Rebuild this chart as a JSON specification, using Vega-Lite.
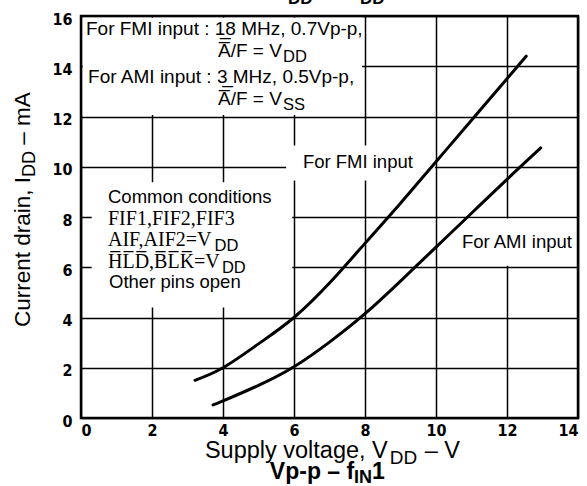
{
  "$schema": "https://vega.github.io/schema/vega-lite/v6.json",
  "width": 497,
  "height": 402,
  "autosize": {"type": "none"},
  "padding": {"left": 81, "top": 16, "right": 9, "bottom": 68},
  "background": "white",
  "config": {"view": {"stroke": "black", "strokeWidth": 2.5}},
  "datasets": {
    "boxes": [
      {"x": 0.05, "xe": 7.92, "y": 12.06, "ye": 15.93},
      {"x": 5.78, "xe": 9.97, "y": 9.45, "ye": 10.85},
      {"x": 0.3, "xe": 5.95, "y": 4.4, "ye": 9.38},
      {"x": 10.1, "xe": 13.94, "y": 6.06, "ye": 7.94}
    ],
    "curves": [
      {"series": "FMI", "x": 3.21, "y": 1.5},
      {"series": "FMI", "x": 4.0, "y": 2.0},
      {"series": "FMI", "x": 5.0, "y": 2.95},
      {"series": "FMI", "x": 6.0, "y": 4.0},
      {"series": "FMI", "x": 7.0, "y": 5.37},
      {"series": "FMI", "x": 8.0, "y": 6.95},
      {"series": "FMI", "x": 9.0, "y": 8.55},
      {"series": "FMI", "x": 10.0, "y": 10.2},
      {"series": "FMI", "x": 11.0, "y": 11.85},
      {"series": "FMI", "x": 12.0, "y": 13.5},
      {"series": "FMI", "x": 12.54, "y": 14.4},
      {"series": "AMI", "x": 3.72, "y": 0.52},
      {"series": "AMI", "x": 4.0, "y": 0.68},
      {"series": "AMI", "x": 5.0, "y": 1.3},
      {"series": "AMI", "x": 6.0, "y": 2.04},
      {"series": "AMI", "x": 7.0, "y": 3.02},
      {"series": "AMI", "x": 8.0, "y": 4.15},
      {"series": "AMI", "x": 9.0, "y": 5.45},
      {"series": "AMI", "x": 10.0, "y": 6.8},
      {"series": "AMI", "x": 11.0, "y": 8.15},
      {"series": "AMI", "x": 12.0, "y": 9.5},
      {"series": "AMI", "x": 12.95, "y": 10.75}
    ],
    "notes": [
      {"kind": "box", "x": 0.14, "y": 15.24, "t": "For FMI input : 1\u03328 MHz, 0.7Vp-p,"},
      {"kind": "box", "x": 3.86, "y": 14.37, "t": "A\u0305/F = V"},
      {"kind": "box", "x": 0.2, "y": 13.33, "t": "For AMI input : 3\u0332 MHz, 0.5Vp-p,"},
      {"kind": "box", "x": 3.86, "y": 12.46, "t": "A\u0305/F = V"},
      {"kind": "sub", "x": 5.69, "y": 14.37, "t": "DD"},
      {"kind": "sub", "x": 5.69, "y": 12.46, "t": "SS"},
      {"kind": "sub", "x": 3.76, "y": 6.85, "t": "DD"},
      {"kind": "sub", "x": 3.97, "y": 5.97, "t": "DD"},
      {"kind": "label", "x": 0.76, "y": 8.56, "t": "Common conditions"},
      {"kind": "label", "x": 0.79, "y": 5.17, "t": "Other pins open"},
      {"kind": "label", "x": 6.25, "y": 9.95, "t": "For FMI input"},
      {"kind": "label", "x": 10.73, "y": 6.77, "t": "For AMI input"},
      {"kind": "serif", "x": 0.76, "y": 7.68, "t": "FIF1,FIF2,FIF3"},
      {"kind": "serif", "x": 0.76, "y": 6.85, "t": "AIF,AIF2=V"},
      {"kind": "serif", "x": 0.76, "y": 5.97, "t": "H\u0305L\u0305D\u0305,B\u0305L\u0305K\u0305=V"},
      {"kind": "xtitle", "x": 3.49, "y": -1.58, "t": "Supply voltage, V"},
      {"kind": "xtitle", "x": 9.68, "y": -1.58, "t": "\u2013 V"},
      {"kind": "xsub", "x": 8.7, "y": -1.58, "t": "DD"},
      {"kind": "bold", "x": 5.32, "y": -2.42, "t": "Vp-p \u2013 f"},
      {"kind": "bold", "x": 8.2, "y": -2.42, "t": "1"},
      {"kind": "boldsub", "x": 7.69, "y": -2.42, "t": "IN"},
      {"kind": "ytitle", "x": -1.44, "y": 3.62, "t": "Current drain, I"},
      {"kind": "ytitle", "x": -1.44, "y": 10.88, "t": "\u2013 mA"},
      {"kind": "ysub", "x": -1.44, "y": 9.59, "t": "DD"},
      {"kind": "top", "x": 5.83, "y": 16.48, "t": "DD"},
      {"kind": "top", "x": 7.86, "y": 16.48, "t": "DD"}
    ]
  },
  "layer": [
    {
      "data": {"name": "boxes"},
      "mark": {"type": "rect", "color": "white"},
      "encoding": {
        "x": {"field": "x", "type": "quantitative", "scale": {"domain": [0, 14], "nice": false},
          "axis": {"values": [0, 2, 4, 6, 8, 10, 12, 14], "grid": true, "gridColor": "black", "gridWidth": 1.5, "gridOpacity": 1,
            "domain": false, "ticks": false, "labelFont": "Liberation Sans Narrow, DejaVu Sans Condensed, sans-serif",
            "labelFontSize": 16, "labelFontWeight": "bold", "labelColor": "black", "labelPadding": 4, "title": null}},
        "x2": {"field": "xe"},
        "y": {"field": "y", "type": "quantitative", "scale": {"domain": [0, 16], "nice": false},
          "axis": {"values": [0, 2, 4, 6, 8, 10, 12, 14, 16], "grid": true, "gridColor": "black", "gridWidth": 1.5, "gridOpacity": 1,
            "domain": false, "ticks": false, "labelFont": "Liberation Sans Narrow, DejaVu Sans Condensed, sans-serif",
            "labelFontSize": 16, "labelFontWeight": "bold", "labelColor": "black", "labelPadding": 9, "labelOffset": 3, "title": null}},
        "y2": {"field": "ye"}
      }
    },
    {
      "data": {"name": "curves"},
      "mark": {"type": "line", "color": "black", "strokeWidth": 3, "interpolate": "natural", "strokeCap": "round"},
      "encoding": {
        "x": {"field": "x", "type": "quantitative", "scale": {"domain": [0, 14], "nice": false}, "title": null},
        "y": {"field": "y", "type": "quantitative", "scale": {"domain": [0, 16], "nice": false}, "title": null},
        "detail": {"field": "series"}
      }
    },
    {
      "data": {"name": "notes"},
      "transform": [{"filter": "datum.kind === 'box'"}],
      "mark": {"type": "text", "font": "Liberation Sans", "fontSize": 19, "align": "left", "baseline": "alphabetic", "color": "black"},
      "encoding": {
        "x": {"field": "x", "type": "quantitative", "scale": {"domain": [0, 14], "nice": false}, "title": null},
        "y": {"field": "y", "type": "quantitative", "scale": {"domain": [0, 16], "nice": false}, "title": null},
        "text": {"field": "t"}
      }
    },
    {
      "data": {"name": "notes"},
      "transform": [{"filter": "datum.kind === 'sub'"}],
      "mark": {"type": "text", "font": "Liberation Sans", "fontSize": 16.5, "align": "left", "baseline": "alphabetic", "dy": 5, "color": "black"},
      "encoding": {
        "x": {"field": "x", "type": "quantitative", "scale": {"domain": [0, 14], "nice": false}, "title": null},
        "y": {"field": "y", "type": "quantitative", "scale": {"domain": [0, 16], "nice": false}, "title": null},
        "text": {"field": "t"}
      }
    },
    {
      "data": {"name": "notes"},
      "transform": [{"filter": "datum.kind === 'label'"}],
      "mark": {"type": "text", "font": "Liberation Sans", "fontSize": 18.5, "align": "left", "baseline": "alphabetic", "color": "black"},
      "encoding": {
        "x": {"field": "x", "type": "quantitative", "scale": {"domain": [0, 14], "nice": false}, "title": null},
        "y": {"field": "y", "type": "quantitative", "scale": {"domain": [0, 16], "nice": false}, "title": null},
        "text": {"field": "t"}
      }
    },
    {
      "data": {"name": "notes"},
      "transform": [{"filter": "datum.kind === 'serif'"}],
      "mark": {"type": "text", "font": "Liberation Serif", "fontSize": 20, "align": "left", "baseline": "alphabetic", "color": "black"},
      "encoding": {
        "x": {"field": "x", "type": "quantitative", "scale": {"domain": [0, 14], "nice": false}, "title": null},
        "y": {"field": "y", "type": "quantitative", "scale": {"domain": [0, 16], "nice": false}, "title": null},
        "text": {"field": "t"}
      }
    },
    {
      "data": {"name": "notes"},
      "transform": [{"filter": "datum.kind === 'xtitle'"}],
      "mark": {"type": "text", "font": "Liberation Sans", "fontSize": 23.5, "align": "left", "baseline": "alphabetic", "color": "black"},
      "encoding": {
        "x": {"field": "x", "type": "quantitative", "scale": {"domain": [0, 14], "nice": false}, "title": null},
        "y": {"field": "y", "type": "quantitative", "scale": {"domain": [0, 16], "nice": false}, "title": null},
        "text": {"field": "t"}
      }
    },
    {
      "data": {"name": "notes"},
      "transform": [{"filter": "datum.kind === 'xsub'"}],
      "mark": {"type": "text", "font": "Liberation Sans", "fontSize": 19, "align": "left", "baseline": "alphabetic", "dy": 6, "color": "black"},
      "encoding": {
        "x": {"field": "x", "type": "quantitative", "scale": {"domain": [0, 14], "nice": false}, "title": null},
        "y": {"field": "y", "type": "quantitative", "scale": {"domain": [0, 16], "nice": false}, "title": null},
        "text": {"field": "t"}
      }
    },
    {
      "data": {"name": "notes"},
      "transform": [{"filter": "datum.kind === 'bold'"}],
      "mark": {"type": "text", "font": "Liberation Sans", "fontSize": 23, "fontWeight": "bold", "align": "left", "baseline": "alphabetic", "color": "black"},
      "encoding": {
        "x": {"field": "x", "type": "quantitative", "scale": {"domain": [0, 14], "nice": false}, "title": null},
        "y": {"field": "y", "type": "quantitative", "scale": {"domain": [0, 16], "nice": false}, "title": null},
        "text": {"field": "t"}
      }
    },
    {
      "data": {"name": "notes"},
      "transform": [{"filter": "datum.kind === 'boldsub'"}],
      "mark": {"type": "text", "font": "Liberation Sans", "fontSize": 18, "fontWeight": "bold", "align": "left", "baseline": "alphabetic", "dy": 4, "color": "black"},
      "encoding": {
        "x": {"field": "x", "type": "quantitative", "scale": {"domain": [0, 14], "nice": false}, "title": null},
        "y": {"field": "y", "type": "quantitative", "scale": {"domain": [0, 16], "nice": false}, "title": null},
        "text": {"field": "t"}
      }
    },
    {
      "data": {"name": "notes"},
      "transform": [{"filter": "datum.kind === 'ytitle'"}],
      "mark": {"type": "text", "font": "Liberation Sans", "fontSize": 22.5, "align": "left", "baseline": "alphabetic", "angle": 270, "color": "black"},
      "encoding": {
        "x": {"field": "x", "type": "quantitative", "scale": {"domain": [0, 14], "nice": false}, "title": null},
        "y": {"field": "y", "type": "quantitative", "scale": {"domain": [0, 16], "nice": false}, "title": null},
        "text": {"field": "t"}
      }
    },
    {
      "data": {"name": "notes"},
      "transform": [{"filter": "datum.kind === 'ysub'"}],
      "mark": {"type": "text", "font": "Liberation Sans", "fontSize": 18, "align": "left", "baseline": "alphabetic", "angle": 270, "dy": 5, "color": "black"},
      "encoding": {
        "x": {"field": "x", "type": "quantitative", "scale": {"domain": [0, 14], "nice": false}, "title": null},
        "y": {"field": "y", "type": "quantitative", "scale": {"domain": [0, 16], "nice": false}, "title": null},
        "text": {"field": "t"}
      }
    },
    {
      "data": {"name": "notes"},
      "transform": [{"filter": "datum.kind === 'top'"}],
      "mark": {"type": "text", "font": "Liberation Sans", "fontSize": 17, "fontWeight": "bold", "align": "left", "baseline": "alphabetic", "color": "black"},
      "encoding": {
        "x": {"field": "x", "type": "quantitative", "scale": {"domain": [0, 14], "nice": false}, "title": null},
        "y": {"field": "y", "type": "quantitative", "scale": {"domain": [0, 16], "nice": false}, "title": null},
        "text": {"field": "t"}
      }
    }
  ]
}
